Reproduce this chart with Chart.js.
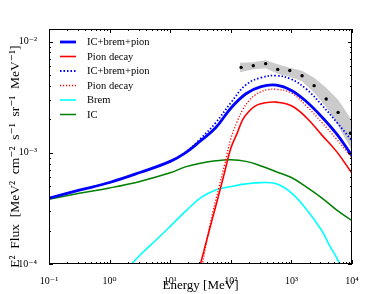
<!DOCTYPE html>
<html>
<head>
<meta charset="utf-8">
<script src="https://cdn.jsdelivr.net/npm/chart.js@4.4.0/dist/chart.umd.min.js"></script>
<style>
	html, body { margin: 0; padding: 0; background: #fff; }
</style>
</head>
<body>
<canvas id="chart" width="391" height="294"></canvas>
<script>
(function () {
	'use strict';

	// --- Data (energy in MeV, flux in MeV^2 cm^-2 s^-1 sr^-1 MeV^-1) ---
	var energyGrid  = [0.1, 0.316, 1, 3.16, 10, 17.8, 31.6, 56.2, 100, 178, 316, 562, 1000, 1778, 3162, 5623, 10000];
	var totalSolid  = [3.91e-4, 4.61e-4, 5.41e-4, 6.65e-4, 8.38e-4, 1.0e-3, 1.28e-3, 1.68e-3, 2.52e-3, 3.40e-3, 3.94e-3, 4.06e-3, 3.64e-3, 2.88e-3, 2.11e-3, 1.47e-3, 9.4e-4];
	var totalDotted = [3.91e-4, 4.61e-4, 5.41e-4, 6.65e-4, 8.38e-4, 1.01e-3, 1.34e-3, 1.86e-3, 2.82e-3, 4.10e-3, 4.74e-3, 4.94e-3, 4.59e-3, 3.73e-3, 2.70e-3, 1.88e-3, 1.28e-3];
	var icFlux      = [3.83e-4, 4.32e-4, 4.83e-4, 5.53e-4, 6.61e-4, 7.48e-4, 8.07e-4, 8.48e-4, 8.65e-4, 8.38e-4, 7.62e-4, 6.76e-4, 6.0e-4, 4.92e-4, 3.94e-4, 3.05e-4, 2.45e-4];

	var pionEnergy  = [28.2, 31.6, 39.8, 50.1, 63.1, 79.4, 100, 126, 158, 200, 251, 316, 398, 562, 1000, 1778, 3162, 5623, 10000];
	var pionSolid   = [7.85e-5, 1.0e-4, 1.62e-4, 2.60e-4, 4.17e-4, 6.76e-4, 1.10e-3, 1.48e-3, 2.0e-3, 2.37e-3, 2.63e-3, 2.77e-3, 2.84e-3, 2.86e-3, 2.65e-3, 2.07e-3, 1.45e-3, 1.02e-3, 6.53e-4];
	var pionDotted  = [5.6e-5, 7.9e-5, 1.58e-4, 2.88e-4, 4.79e-4, 7.94e-4, 1.33e-3, 1.88e-3, 2.45e-3, 2.95e-3, 3.31e-3, 3.55e-3, 3.70e-3, 3.73e-3, 3.45e-3, 2.63e-3, 1.88e-3, 1.32e-3, 9.0e-4];

	var bremEnergy  = [2.0, 3.16, 5.62, 10, 17.8, 31.6, 56.2, 100, 178, 316, 562, 1000, 1778, 3162, 4217, 5623, 6310];
	var bremFlux    = [9.2e-5, 1.2e-4, 1.61e-4, 2.18e-4, 2.97e-4, 3.93e-4, 4.64e-4, 4.97e-4, 5.26e-4, 5.40e-4, 5.26e-4, 4.36e-4, 3.09e-4, 2.0e-4, 1.48e-4, 1.13e-4, 9.8e-5];

	var dataEnergy  = [148, 235, 376, 595, 940, 1500, 2370, 3750, 5900, 9400];
	var dataFlux    = [5.87e-3, 6.08e-3, 6.34e-3, 5.63e-3, 5.51e-3, 4.94e-3, 4.02e-3, 3.05e-3, 2.31e-3, 1.50e-3];

	var bandEnergy  = [142, 235, 376, 595, 940, 1500, 2370, 3750, 5900, 10000];
	var bandUpper   = [6.45e-3, 6.53e-3, 6.79e-3, 6.26e-3, 5.83e-3, 5.48e-3, 4.74e-3, 3.85e-3, 3.0e-3, 1.95e-3];
	var bandLower   = [5.3e-3, 5.65e-3, 5.77e-3, 5.15e-3, 4.84e-3, 4.41e-3, 3.48e-3, 2.59e-3, 1.75e-3, 1.05e-3];

	var xTickPowers = [-1, 0, 1, 2, 3, 4];
	var yTickPowers = [-4, -3, -2];

	var SERIF = "'Liberation Serif', 'DejaVu Serif', serif";
	var SUP = { '-': '\u207B', '0': '\u2070', '1': '\u00B9', '2': '\u00B2', '3': '\u00B3', '4': '\u2074', '5': '\u2075', '6': '\u2076', '7': '\u2077', '8': '\u2078', '9': '\u2079' };
	// trailing no-break spaces push the rotated label down a little, as in the original
	var Y_TITLE = 'E\u00B2  Flux  [MeV\u00B2  cm\u207B\u00B2  s\u207B\u00B9  sr\u207B\u00B9  MeV\u207B\u00B9]\u00A0\u00A0\u00A0\u00A0\u00A0\u00A0';

	function pts(xs, ys) {
		return xs.map(function (x, i) { return { x: x, y: ys[i] }; });
	}

	function sup(n) {
		return String(n).split('').map(function (c) { return SUP[c]; }).join('');
	}

	function powLabel(list) {
		return function (v) {
			var e = Math.log10(v);
			var r = Math.round(e);
			if (Math.abs(e - r) > 1e-6 || list.indexOf(r) === -1) return '';
			return '10' + sup(r);
		};
	}

	function curve(label, xs, ys, color, width, dash) {
		return {
			label: label,
			data: pts(xs, ys),
			borderColor: color,
			backgroundColor: color,
			borderWidth: width,
			borderDash: dash || [],
			pointRadius: 0,
			fill: false,
			tension: 0.4,
			inLegend: true
		};
	}

	// inward ticks on all four sides, plus the frame
	var frameTicks = {
		id: 'frameTicks',
		afterDraw: function (chart) {
			var ctx = chart.ctx, a = chart.chartArea;
			var xs = chart.scales.x, ys = chart.scales.y;
			ctx.save();
			ctx.strokeStyle = '#000';
			ctx.lineWidth = 1;
			ctx.beginPath();
			var p, m, v, px, len;
			for (p = -1; p <= 4; p++) {
				for (m = 1; m <= 9; m++) {
					v = m * Math.pow(10, p);
					if (v < xs.min * 0.999 || v > xs.max * 1.001) continue;
					px = Math.round(xs.getPixelForValue(v)) + 0.5;
					len = m === 1 ? 4 : 2;
					ctx.moveTo(px, a.bottom); ctx.lineTo(px, a.bottom - len);
					ctx.moveTo(px, a.top); ctx.lineTo(px, a.top + len);
				}
			}
			for (p = -4; p <= -2; p++) {
				for (m = 1; m <= 9; m++) {
					v = m * Math.pow(10, p);
					if (v < ys.min * 0.999 || v > ys.max * 1.001) continue;
					px = Math.round(ys.getPixelForValue(v)) + 0.5;
					len = m === 1 ? 4 : 2;
					ctx.moveTo(a.left, px); ctx.lineTo(a.left + len, px);
					ctx.moveTo(a.right, px); ctx.lineTo(a.right - len, px);
				}
			}
			ctx.stroke();
			ctx.strokeRect(a.left + 0.5, a.top + 0.5, a.right - a.left - 1, a.bottom - a.top - 1);
			ctx.restore();
		}
	};

	// legend in the upper-left corner of the plot, no frame
	var innerLegend = {
		id: 'innerLegend',
		afterDraw: function (chart) {
			var ctx = chart.ctx, a = chart.chartArea;
			var items = chart.data.datasets.filter(function (d) { return d.inLegend; });
			ctx.save();
			ctx.font = '10.5px ' + SERIF;
			ctx.textBaseline = 'middle';
			ctx.fillStyle = '#000';
			items.forEach(function (d, i) {
				var y = a.top + 13 + i * 14.5;
				ctx.strokeStyle = d.borderColor;
				ctx.lineWidth = d.borderWidth;
				ctx.setLineDash(d.borderDash);
				ctx.beginPath();
				ctx.moveTo(a.left + 11, y);
				ctx.lineTo(a.left + 27, y);
				ctx.stroke();
				ctx.setLineDash([]);
				ctx.fillText(d.label, a.left + 38, y + 0.5);
			});
			ctx.restore();
		}
	};

	var datasets = [
		curve('IC+brem+pion', energyGrid, totalSolid, '#0000ff', 2.8),
		curve('Pion decay', pionEnergy, pionSolid, '#ff0000', 1.6),
		curve('IC+brem+pion', energyGrid, totalDotted, '#0000ff', 1.8, [1.5, 2]),
		curve('Pion decay', pionEnergy, pionDotted, '#ff0000', 1.3, [1.2, 1.8]),
		curve('Brem', bremEnergy, bremFlux, '#00ffff', 1.6),
		curve('IC', energyGrid, icFlux, '#008000', 1.5),
		{
			label: 'data',
			data: pts(dataEnergy, dataFlux),
			showLine: false,
			pointRadius: 1.7,
			pointBackgroundColor: '#000',
			pointBorderColor: '#000',
			pointBorderWidth: 0,
			order: 5
		},
		{
			label: 'band upper',
			data: pts(bandEnergy, bandUpper),
			borderWidth: 0,
			borderColor: 'rgba(0,0,0,0)',
			pointRadius: 0,
			tension: 0,
			fill: false,
			order: 10
		},
		{
			label: 'band lower',
			data: pts(bandEnergy, bandLower),
			borderWidth: 0,
			borderColor: 'rgba(0,0,0,0)',
			backgroundColor: '#cbcbcb',
			pointRadius: 0,
			tension: 0,
			fill: '-1',
			order: 10
		}
	];

	new Chart(document.getElementById('chart'), {
		type: 'line',
		data: { datasets: datasets },
		options: {
			responsive: false,
			animation: false,
			devicePixelRatio: 1,
			layout: { padding: { top: 29, right: 39, left: 0, bottom: 0 } },
			plugins: { legend: { display: false }, tooltip: { enabled: false } },
			scales: {
				x: {
					type: 'logarithmic',
					min: 0.1,
					max: 10000,
					afterFit: function (s) { s.height = 30; },
					grid: { display: false },
					border: { display: false },
					ticks: { autoSkip: false, maxRotation: 0, padding: 3, color: '#000', font: { family: SERIF, size: 10 }, callback: powLabel(xTickPowers) },
					title: { display: true, text: 'Energy [MeV]', color: '#000', padding: { top: 0, bottom: 0.5 }, font: { family: SERIF, size: 13 } }
				},
				y: {
					type: 'logarithmic',
					min: 1e-4,
					max: 1.3e-2,
					afterFit: function (s) { s.width = 49; },
					grid: { display: false },
					border: { display: false },
					ticks: { autoSkip: false, padding: 4, color: '#000', font: { family: SERIF, size: 10 }, callback: powLabel(yTickPowers) },
					title: { display: true, text: Y_TITLE, color: '#000', padding: { top: 7, bottom: 0 }, font: { family: SERIF, size: 13.5 } }
				}
			}
		},
		plugins: [frameTicks, innerLegend]
	});
})();
</script>
</body>
</html>
